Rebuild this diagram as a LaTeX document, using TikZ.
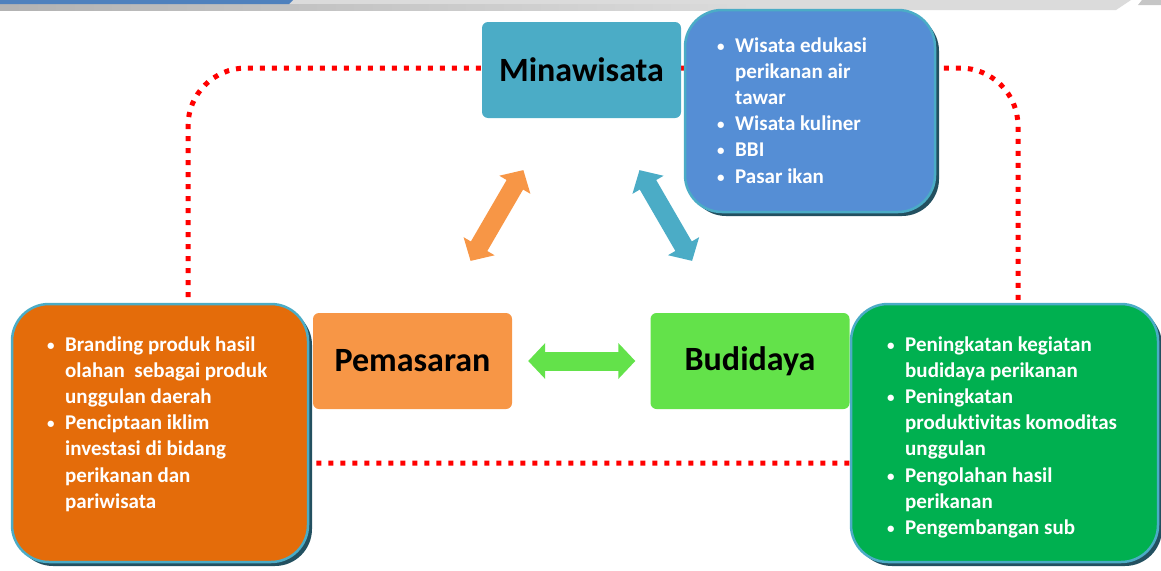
\documentclass[tikz,border=0pt]{standalone}
\usepackage{fontspec}
\setmainfont{Carlito}[Ligatures=NoCommon]
\usetikzlibrary{arrows.meta,shadows}

\definecolor{minaBlue}{RGB}{75,172,198}
\definecolor{listBlue}{RGB}{85,142,213}
\definecolor{pasarOrange}{RGB}{247,150,70}
\definecolor{budiGreen}{RGB}{99,226,74}
\definecolor{darkOrange}{RGB}{228,108,10}
\definecolor{darkGreen}{RGB}{0,176,80}
\definecolor{shadowTeal}{RGB}{35,80,96}
\definecolor{headBlue}{RGB}{79,129,189}

\newcommand{\butir}{\makebox[18pt][l]{\raisebox{1pt}{\fontsize{15}{15}\selectfont\textbullet}}}

\tikzset{
  pilar/.style={rectangle, rounded corners=6pt, minimum width=199pt, minimum height=96pt,
    inner sep=0pt, font=\fontsize{34}{40}\selectfont\bfseries},
  daftar/.style={rectangle, rounded corners=37pt, draw=minaBlue, line width=2.5pt,
    drop shadow={shadow xshift=4pt, shadow yshift=-4pt, fill=shadowTeal, opacity=1}},
  isi/.style={anchor=base west, inner sep=0pt, text=white,
    font=\fontsize{21}{26.2}\selectfont\bfseries},
  panah/.style={line width=19pt, {Triangle[width=35pt,length=17pt]}-{Triangle[width=35pt,length=17pt]}},
  garis/.style={red, line width=5pt, dash pattern=on 5pt off 7pt}
}

\begin{document}
\begin{tikzpicture}[x=1pt,y=-1pt]
\useasboundingbox (0,0) rectangle (1161,570);

% Kepala halaman
\fill[gray!28] (0,0) -- (1131,0) -- (1116,10) -- (0,10) -- cycle;
\shade[left color=gray!60, right color=gray!28] (0,4) rectangle (760,10);
\fill[headBlue] (0,0) -- (293,0) -- (289,4) -- (0,4) -- cycle;
\fill[gray!45] (1142,0) -- (1161,0) -- (1161,5) -- (1138,5) -- cycle;

% Garis putus-putus
\draw[garis, rounded corners=58pt] (188,463) rectangle (1018,68);

% Tiga pilar
\node[pilar, fill=minaBlue] (mina) at (581.5,70) {Minawisata};
\node[pilar, fill=pasarOrange] (pasar) at (412.5,361) {Pemasaran};
\node[pilar, fill=budiGreen] (budi) at (750,361) {Budidaya};

% Panah
\draw[panah, pasarOrange, shorten <=60pt, shorten >=60pt] (pasar) -- (mina);
\draw[panah, minaBlue, shorten <=60pt, shorten >=60pt] (budi) -- (mina);
\draw[panah, budiGreen, shorten <=16pt, shorten >=15pt] (pasar) -- (budi);

% Kotak daftar
\node[daftar, fill=listBlue, minimum width=250pt, minimum height=202pt] (wisata) at (810,111) {};
\node[daftar, fill=darkOrange, minimum width=296pt, minimum height=258pt] (olahan) at (160,433) {};
\node[daftar, fill=darkGreen, minimum width=307pt, minimum height=258pt] (budilist) at (1004.5,433) {};

\node[isi] (wisataIsi) at (717,52) {\begin{tabular}[t]{@{}l@{}l@{}}
  \butir & Wisata edukasi\\
         & perikanan air\\
         & tawar\\
  \butir & Wisata kuliner\\
  \butir & BBI\\
  \butir & Pasar ikan
\end{tabular}};

\node[isi] (olahanIsi) at (47,351) {\begin{tabular}[t]{@{}l@{}l@{}}
  \butir & Branding produk hasil\\
         & olahan~ sebagai produk\\
         & unggulan daerah\\
  \butir & Penciptaan iklim\\
         & investasi di bidang\\
         & perikanan dan\\
         & pariwisata
\end{tabular}};

\node[isi] (budiIsi) at (887,351) {\begin{tabular}[t]{@{}l@{}l@{}}
  \butir & Peningkatan kegiatan\\
         & budidaya perikanan\\
  \butir & Peningkatan\\
         & produktivitas komoditas\\
         & unggulan\\
  \butir & Pengolahan hasil\\
         & perikanan\\
  \butir & Pengembangan sub
\end{tabular}};

\end{tikzpicture}
\end{document}
